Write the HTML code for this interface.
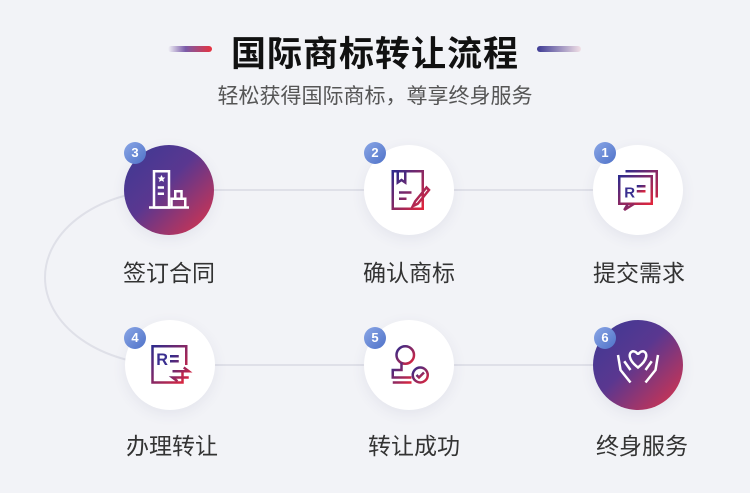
<!DOCTYPE html>
<html><head><meta charset="utf-8"><style>
body{margin:0;width:750px;height:493px;background:#f2f3f7;font-family:"Liberation Sans","Noto Sans CJK SC",sans-serif;position:relative;overflow:hidden}
.t{position:absolute;left:0;width:750px;text-align:center}
.c{position:absolute;width:90px;height:90px;border-radius:50%;background:#fff;box-shadow:0 4px 14px rgba(60,60,120,0.08)}
.g{background:linear-gradient(135deg,#3c3a94 0%,#5a3790 45%,#e03448 100%)}
.b{position:absolute;width:22px;height:22px;border-radius:50%;background:linear-gradient(135deg,#8aa6e6,#4f72c8);color:#fff;font-size:13px;font-weight:bold;text-align:center;line-height:22px}
.l{position:absolute;width:140px;text-align:center;font-size:23px;color:#333}
.c svg{position:absolute;left:20px;top:20px}
</style></head><body>
<svg width="750" height="493" style="position:absolute;left:0;top:0">
<defs>
<linearGradient id="lg1" x1="0" x2="1"><stop offset="0" stop-color="#f2f3f7"/><stop offset="0.4" stop-color="#7a5aa8"/><stop offset="1" stop-color="#e8323e"/></linearGradient>
<linearGradient id="lg2" x1="0" x2="1"><stop offset="0" stop-color="#3d3a94"/><stop offset="1" stop-color="#f2e0e6"/></linearGradient>
</defs>
<path d="M169 190 H639" stroke="#dfe0e8" stroke-width="2" fill="none"/>
<path d="M169 365 H639" stroke="#dfe0e8" stroke-width="2" fill="none"/>
<path d="M169 190 A124 87.5 0 0 0 169 365" stroke="#dfe0e8" stroke-width="2" fill="none"/>
<rect x="168" y="46" width="44" height="6" rx="3" fill="url(#lg1)"/>
<rect x="537" y="46" width="44" height="6" rx="3" fill="url(#lg2)"/>
</svg>
<div class="t" style="top:26px;font-size:35px;font-weight:bold;color:#111;letter-spacing:1px">国际商标转让流程</div>
<div class="t" style="top:80px;font-size:21px;color:#555">轻松获得国际商标，尊享终身服务</div>

<svg width="0" height="0" style="position:absolute"><defs><linearGradient id="ig" x1="0" y1="0" x2="1" y2="1"><stop offset="0" stop-color="#2e2a8c"/><stop offset="1" stop-color="#e0263c"/></linearGradient></defs></svg>

<div class="c g" style="left:124px;top:145px"><svg width="50" height="50" viewBox="0 0 40 40" fill="none" stroke="#fff" stroke-width="2"><rect x="8" y="5" width="12" height="29"/><path d="M4 34H36M22 34V27H33V34M25 27V21H30V27M24 21H31M11 18H16M11 23H16"/><path d="M14 8l1 2 2 0-1.5 1.5.5 2-2-1-2 1 .5-2L11 10h2z" fill="#fff" stroke="none"/></svg></div>
<div class="c" style="left:364px;top:145px"><svg width="50" height="50" viewBox="0 0 40 40" fill="none" stroke="url(#ig)" stroke-width="2"><rect x="7" y="5" width="24" height="30"/><path d="M11 5V14L14 12L17 14V5M12 22H22M12 27H18M34 18L25 29L23 33L27 31L36 20Z"/></svg></div>
<div class="c" style="left:593px;top:145px"><svg width="50" height="50" viewBox="0 0 40 40" fill="none" stroke="url(#ig)" stroke-width="2"><rect x="5" y="9" width="26" height="22"/><path d="M10 5H35V26M12 31L9 36L17 31"/><text x="9" y="26" font-size="12" fill="#3a2f90" stroke="none" font-family="Liberation Sans" font-weight="bold">R</text><path d="M19 17H26M19 21H26"/></svg></div>
<div class="c" style="left:125px;top:320px"><svg width="50" height="50" viewBox="0 0 40 40" fill="none" stroke="url(#ig)" stroke-width="2"><path d="M30 24V34H6V5H33V20"/><text x="9" y="20" font-size="13" fill="#3a2f90" stroke="none" font-family="Liberation Sans" font-weight="bold">R</text><path d="M20 13H27M20 17H27M22 25H35L31 22M35 30H22L26 33"/></svg></div>
<div class="c" style="left:364px;top:320px"><svg width="50" height="50" viewBox="0 0 40 40" fill="none" stroke="url(#ig)" stroke-width="2"><circle cx="17" cy="12" r="7"/><path d="M14 18V24H7V30H22M7 34H22"/><circle cx="29" cy="28" r="6"/><path d="M26 28l2 2 4-4"/></svg></div>
<div class="c g" style="left:593px;top:320px"><svg width="50" height="50" viewBox="0 0 40 40" fill="none" stroke="#fff" stroke-width="2"><path d="M20 22C12 16 12 10 16 9C18 9 20 11 20 12C20 11 22 9 24 9C28 10 28 16 20 22Z"/><path d="M4 12L6 24L14 34M36 12L34 24L26 34M9 17L14 24M31 17L26 24"/></svg></div>

<div class="b" style="left:124px;top:142px">3</div>
<div class="b" style="left:364px;top:142px">2</div>
<div class="b" style="left:594px;top:142px">1</div>
<div class="b" style="left:124px;top:327px">4</div>
<div class="b" style="left:364px;top:327px">5</div>
<div class="b" style="left:594px;top:327px">6</div>

<div class="l" style="left:99px;top:254px">签订合同</div>
<div class="l" style="left:339px;top:254px">确认商标</div>
<div class="l" style="left:569px;top:254px">提交需求</div>
<div class="l" style="left:102px;top:427px">办理转让</div>
<div class="l" style="left:344px;top:427px">转让成功</div>
<div class="l" style="left:572px;top:427px">终身服务</div>
</body></html>
